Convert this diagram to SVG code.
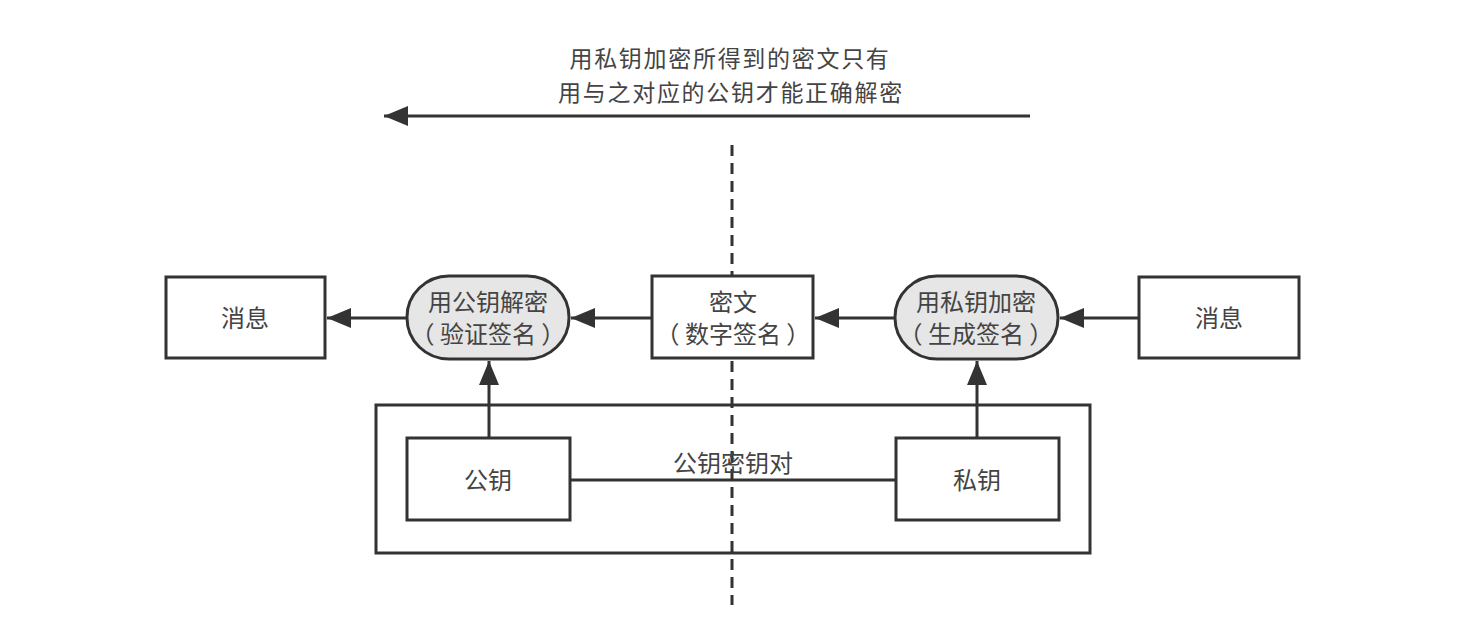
<svg xmlns="http://www.w3.org/2000/svg" width="1484" height="622" viewBox="0 0 1484 622">
<style>
.t{font-family:"Noto Sans CJK SC","Noto Sans",sans-serif;font-size:24px;fill:#444;text-anchor:middle}
.big{font-size:23px;letter-spacing:1.7px}
.box{fill:#fff;stroke:#333;stroke-width:3}
.pill{fill:#e6e6e6;stroke:#333;stroke-width:3}
.ln{fill:none;stroke:#333;stroke-width:3}
.arr{fill:none;stroke:#333;stroke-width:3;marker-end:url(#ah)}
</style>
<defs>
<marker id="ah" markerUnits="userSpaceOnUse" markerWidth="28" markerHeight="24" refX="24" refY="12" orient="auto">
<path d="M0,2 L24,12 L0,22 Z" fill="#333"/>
</marker>
</defs>
<rect width="1484" height="622" fill="#fff"/>
<g id="divider">
<line x1="732" y1="145" x2="732" y2="605" stroke="#333" stroke-width="3" stroke-dasharray="11,7"/>
</g>
<g id="note">
<text class="t big" x="730" y="67">用私钥加密所得到的密文只有</text>
<text class="t big" x="731" y="101">用与之对应的公钥才能正确解密</text>
</g>
<g id="connectors">
<line class="arr" x1="1030" y1="116" x2="384" y2="116"/>
<line class="arr" x1="407" y1="318" x2="327" y2="318"/>
<line class="arr" x1="652" y1="318" x2="571" y2="318"/>
<line class="arr" x1="895" y1="318" x2="815" y2="318"/>
<line class="arr" x1="1139" y1="318" x2="1060" y2="318"/>
<line class="arr" x1="489" y1="438" x2="489" y2="361"/>
<line class="arr" x1="977" y1="438" x2="977" y2="361"/>
<line class="ln" x1="570" y1="480" x2="896" y2="480"/>
</g>
<g id="keypair">
<rect x="376" y="405" width="714" height="148" fill="none" stroke="#333" stroke-width="3"/>
<text class="t" x="733" y="472">公钥密钥对</text>
</g>
<g id="msg-left">
<rect class="box" x="166" y="277" width="159" height="81"/>
<text class="t" x="245" y="327">消息</text>
</g>
<g id="verify">
<rect class="pill" x="407" y="276" width="162" height="83" rx="42" ry="41"/>
<text class="t" x="488" y="311">用公钥解密</text>
<text class="t" x="488" y="343">（ 验证签名 ）</text>
</g>
<g id="cipher">
<rect class="box" x="652" y="276" width="161" height="82"/>
<text class="t" x="733" y="311">密文</text>
<text class="t" x="733" y="343">（ 数字签名 ）</text>
</g>
<g id="sign">
<rect class="pill" x="895" y="276" width="163" height="83" rx="42" ry="41"/>
<text class="t" x="976" y="311">用私钥加密</text>
<text class="t" x="976" y="343">（ 生成签名 ）</text>
</g>
<g id="msg-right">
<rect class="box" x="1139" y="277" width="160" height="81"/>
<text class="t" x="1219" y="327">消息</text>
</g>
<g id="pubkey">
<rect class="box" x="407" y="438" width="163" height="82"/>
<text class="t" x="488" y="489">公钥</text>
</g>
<g id="privkey">
<rect class="box" x="896" y="438" width="163" height="82"/>
<text class="t" x="977" y="489">私钥</text>
</g>
</svg>
